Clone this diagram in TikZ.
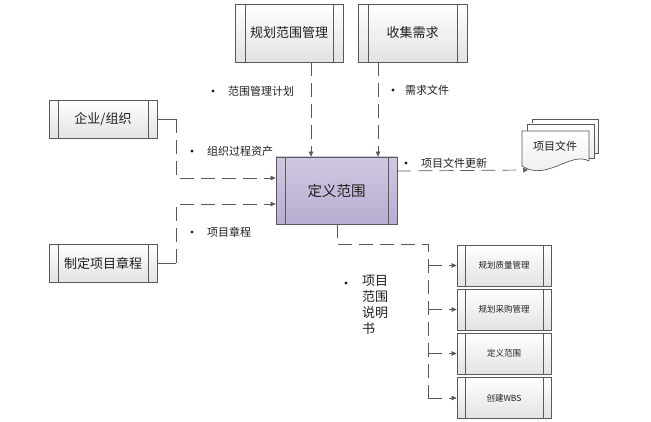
\documentclass[tikz,border=0pt]{standalone}
\usepackage{fontspec}
\setmainfont{Noto Sans CJK SC}
\usetikzlibrary{arrows.meta}
\newcommand\fsz[1]{\fontsize{#1pt}{#1pt}\selectfont}
\definecolor{lnc}{HTML}{595959}
\definecolor{txc}{HTML}{1F1F1F}
\definecolor{purtop}{HTML}{CFC8E2}
\definecolor{purbot}{HTML}{B8AED1}
\begin{document}
\begin{tikzpicture}[x=1pt,y=-1pt,
  ln/.style={draw=lnc, line width=0.7pt},
  dsh/.style={ln, dash pattern=on 14pt off 7pt},
  arr/.style={dsh, -{Triangle[length=5pt,width=4.5pt]}},
  proc/.style={ln, top color=white, bottom color=black!11, inner sep=0pt, text=txc,
    path picture={\draw[lnc, line width=0.7pt]
      ([xshift=#1]path picture bounding box.north west) -- ([xshift=#1]path picture bounding box.south west)
      ([xshift=-#1]path picture bounding box.north east) -- ([xshift=-#1]path picture bounding box.south east);}},
  proc/.default=9pt,
  sheet/.style={ln, top color=white, bottom color=black!8},
  lbl/.style={anchor=west, inner sep=0pt, text=txc, font=\fsz{11}},
  bul/.style={circle, fill=txc, inner sep=0pt, minimum size=3.4pt}
]
\fill[white] (0,0) rectangle (651,422);
\useasboundingbox (0,0) rectangle (651,422);

% process boxes
\node[proc=10pt, minimum width=108pt, minimum height=58pt, font=\fsz{13}] (A) at (289,33) {规划范围管理};
\node[proc=10pt, minimum width=109pt, minimum height=58pt, font=\fsz{13}] (B) at (412.5,33) {收集需求};
\node[proc=9pt, minimum width=121pt, minimum height=67pt, font=\fsz{14.5},
      top color=purtop, bottom color=purbot] (main) at (336.5,190.5) {定义范围};
\node[proc=9pt, minimum width=108pt, minimum height=38pt, font=\fsz{13}] (org) at (103,119) {企业/组织};
\node[proc=9pt, minimum width=108pt, minimum height=38pt, font=\fsz{13}] (charter) at (103,263) {制定项目章程};

\node[proc=8pt, minimum width=94pt, minimum height=41pt, font=\fsz{8.5}] (s1) at (504,265.5) {规划质量管理};
\node[proc=8pt, minimum width=94pt, minimum height=41pt, font=\fsz{8.5}] (s2) at (504,309.5) {规划采购管理};
\node[proc=8pt, minimum width=94pt, minimum height=41pt, font=\fsz{8.5}] (s3) at (504,353.5) {定义范围};
\node[proc=8pt, minimum width=94pt, minimum height=41pt, font=\fsz{8.5}] (s4) at (504,398) {创建WBS};

% document stack
\path[sheet] (532,119) -- (598,119) -- (598,153) -- (532,153) -- cycle;
\path[sheet] (527,124) -- (594,124) -- (594,158) -- (527,158) -- cycle;
\path[sheet] (522,131) -- (589,131) -- (589,161) .. controls (570,151) and (547,182) .. (522,166) -- cycle;
\node[inner sep=0pt, text=txc, font=\fsz{11}] (doc) at (555,146) {项目文件};
\coordinate (docin) at (528,170);

% helper coordinates
\coordinate (xa) at (311,0);
\coordinate (xb) at (378,0);
\coordinate (kx) at (176,0);
\coordinate (y1) at (0,178);
\coordinate (y2) at (0,204);
\coordinate (y3) at (0,171);
\coordinate (mx) at (337,0);
\coordinate (bx) at (428,244);

% connectors
\draw[arr] (A.south -| xa) -- (main.north -| xa);
\draw[arr] (B.south -| xb) -- (main.north -| xb);
\draw[ln] (org.east) -- (org.east -| kx);
\draw[arr] (org.east -| kx) |- (main.west |- y1);
\draw[ln] (charter.east) -- (charter.east -| kx);
\draw[arr] (charter.east -| kx) |- (main.west |- y2);
\draw[arr] (main.east |- y3) -- (docin);
\draw[dsh] (main.south -| mx) |- (bx) -- (bx |- s4.west);
\draw[arr] (bx |- s1.west) -- (s1.west);
\draw[arr] (bx |- s2.west) -- (s2.west);
\draw[arr] (bx |- s3.west) -- (s3.west);
\draw[arr] (bx |- s4.west) -- (s4.west);

% labels
\node[bul] (b1) at (213,91) {};
\node[lbl] (l1) at (228,91) {范围管理计划};
\node[bul] (b2) at (393,90) {};
\node[lbl] (l2) at (405,90) {需求文件};
\node[bul] (b3) at (192,151) {};
\node[lbl] (l3) at (207,151) {组织过程资产};
\node[bul] (b4) at (192,232) {};
\node[lbl] (l4) at (207,232) {项目章程};
\node[bul] (b5) at (406,163) {};
\node[lbl] (l5) at (421,163) {项目文件更新};
\node[bul] (b6) at (346,283) {};
\node[anchor=north west, inner sep=0pt, text=txc, align=left, font={\fontsize{13pt}{16pt}\selectfont}] (l6) at (362,275) {项目\\范围\\说明\\书};
\end{tikzpicture}
\end{document}
